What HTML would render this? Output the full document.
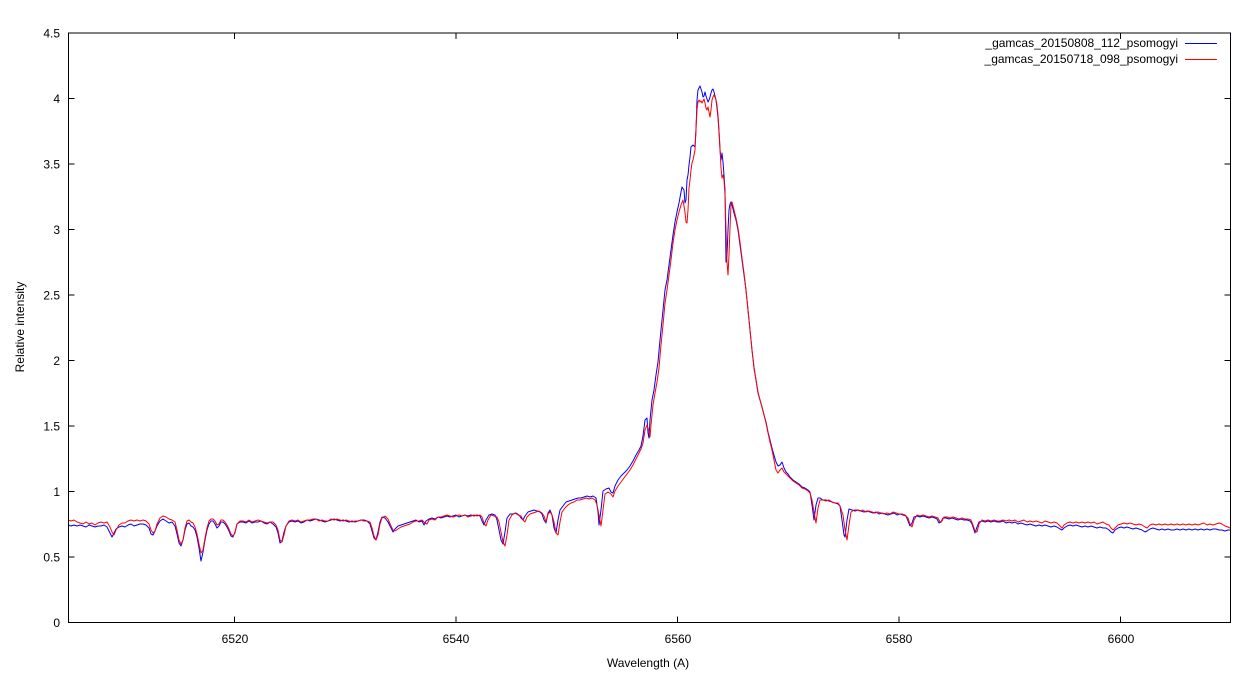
<!DOCTYPE html>
<html><head><meta charset="utf-8"><style>
html,body{margin:0;padding:0;background:#fff;}
svg{display:block;}
text{font-family:"Liberation Sans",sans-serif;font-size:12px;fill:#000;}
</style></head><body>
<svg width="1252" height="674" viewBox="0 0 1252 674" xmlns="http://www.w3.org/2000/svg">
<rect x="0" y="0" width="1252" height="674" fill="#fff"/>
<g stroke="#000" stroke-width="1" fill="none" shape-rendering="crispEdges">
<path d="M68.5,622.5H74.5M68.5,557H74.5M68.5,491.5H74.5M68.5,426H74.5M68.5,360.5H74.5M68.5,295H74.5M68.5,229.5H74.5M68.5,164H74.5M68.5,98.5H74.5M68.5,33H74.5"/>
<path d="M1230.5,557H1224.5M1230.5,491.5H1224.5M1230.5,426H1224.5M1230.5,360.5H1224.5M1230.5,295H1224.5M1230.5,229.5H1224.5M1230.5,164H1224.5M1230.5,98.5H1224.5"/>
<path d="M234.5,622.5V616.5M456,622.5V616.5M677.5,622.5V616.5M899,622.5V616.5M1120.5,622.5V616.5"/>
<path d="M234.5,33V39M456,33V39M677.5,33V39M899,33V39M1120.5,33V39"/>
</g>
<g text-anchor="end">
<text x="60" y="627">0</text>
<text x="60" y="561.5">0.5</text>
<text x="60" y="496">1</text>
<text x="60" y="430.5">1.5</text>
<text x="60" y="365">2</text>
<text x="60" y="299.5">2.5</text>
<text x="60" y="234">3</text>
<text x="60" y="168.5">3.5</text>
<text x="60" y="103">4</text>
<text x="60" y="37.5">4.5</text>
</g>
<g text-anchor="middle">
<text x="235" y="643">6520</text>
<text x="456" y="643">6540</text>
<text x="678" y="643">6560</text>
<text x="899" y="643">6580</text>
<text x="1121" y="643">6600</text>
<text x="648" y="667">Wavelength (A)</text>
<text transform="translate(24,327) rotate(-90)">Relative intensity</text>
</g>
<g text-anchor="end">
<text x="1178" y="47">_gamcas_20150808_112_psomogyi</text>
<text x="1178" y="63">_gamcas_20150718_098_psomogyi</text>
</g>
<rect x="1185" y="43" width="32" height="1" fill="#0000ff"/>
<rect x="1185" y="59" width="32" height="1" fill="#ff0000"/>
<polyline fill="none" stroke="#0000ff" stroke-width="1" stroke-linejoin="round" points="68,525 71,526 74,525 77,526 80,525 83,526 86,527 89,525 92,526 95,527 98,526 101,526 104,525 107,527 110,533 112,537 114,533 116,529 119,527 122,526 125,527 128,525 131,524 134,526 137,525 140,524 143,524 146,525 149,528 151,534 153,535 155,531 157,526 160,521 163,519 166,521 169,523 172,522 175,526 177,534 179,543 181,546 183,540 185,530 187,524 189,523 191,526 193,527 195,530 197,537 199,548 201,561 203,552 205,540 207,530 209,524 211,521 213,521 215,524 217,528 219,526 221,522 223,522 225,524 227,527 229,531 231,536 233,537 235,532 237,524 240,522 243,522 246,523 249,521 252,523 255,522 258,522 261,521 264,523 267,524 270,522 273,524 276,527 278,533 280,543 282,541 284,532 286,526 289,522 292,521 295,522 298,521 301,523 304,522 307,520 310,521 313,520 316,519 319,520 322,521 325,522 328,521 331,520 334,519 337,520 340,521 343,520 346,521 349,522 352,521 355,522 358,521 361,520 364,520 367,521 370,524 372,531 374,538 376,540 378,532 380,522 382,517 385,518 388,522 391,528 393,532 395,529 398,526 401,525 404,524 407,523 410,522 413,521 416,520 419,522 422,521 424,525 426,521 429,519 432,518 435,519 438,517 441,518 444,517 447,516 450,517 453,516 456,515 459,517 462,516 465,515 468,516 471,515 474,516 477,515 480,516 482,521 484,525 486,520 489,515 492,514 495,515 497,520 499,530 501,540 503,544 505,532 507,518 510,514 513,514 516,513 519,515 521,518 523,520 525,516 528,512 531,511 534,510 537,511 540,512 542,514 544,520 546,523 548,513 550,510 552,515 554,528 556,533 558,520 560,510 563,506 566,502 569,501 572,500 575,499 578,498 581,498 584,497 587,496 590,497 593,496 596,498 598,512 599,525 601,510 603,491 606,489 609,488 611,492 613,493 615,486 618,480 621,476 624,473 627,470 630,466 633,461 636,455 639,450 641,446 643,436 645,420 647,418 648,433 649,438 650,420 652,400 654,390 656,375 658,362 660,340 662,320 664,300 665,290 667,280 669,265 671,250 673,235 675,222 677,212 679,203 681,192 682,187 684,190 685,203 686,200 687,180 688,175 689,165 690,157 691,147 693,145 695,147 696,130 697,100 698,90 699,88 700,86 701,89 702,92 703,97 704,96 705,92 706,96 708,102 709,100 710,97 711,93 712,90 713,89 714,92 715,96 716,100 717,108 718,118 719,132 720,150 721,160 722,153 723,162 724,175 725,190 726,262 727,255 728,230 729,210 730,204 731,202 732,205 734,213 736,220 738,230 740,245 742,260 744,275 746,290 748,310 750,330 752,350 754,368 756,380 758,393 760,400 762,407 764,415 766,422 768,432 770,440 772,448 774,455 776,462 778,466 780,465 782,462 784,468 786,472 788,474 790,477 793,480 796,482 799,484 802,487 805,488 808,490 810,492 812,505 814,520 816,505 818,498 820,498 823,500 826,500 829,501 832,502 835,503 838,504 840,506 842,520 844,535 845,537 847,520 849,509 852,510 855,511 858,510 861,511 864,512 867,511 870,512 873,513 876,512 879,514 882,513 885,514 888,515 891,514 894,513 897,515 900,514 903,515 906,516 908,521 910,526 912,523 914,517 917,516 920,517 923,516 926,517 929,518 932,517 935,518 937,519 939,523 941,522 943,518 946,518 949,519 952,518 955,519 958,520 961,519 964,520 967,520 970,521 972,524 974,530 975,533 977,527 979,522 982,521 985,522 988,521 991,522 994,521 997,522 1000,522 1003,521 1006,523 1009,522 1012,523 1015,522 1018,524 1021,523 1024,524 1027,525 1030,524 1033,525 1036,526 1039,525 1042,526 1045,525 1048,526 1051,527 1054,526 1057,527 1060,529 1062,530 1064,528 1067,526 1070,525 1073,526 1076,525 1079,526 1082,527 1085,526 1088,527 1091,526 1094,527 1097,528 1100,527 1103,528 1106,528 1109,530 1111,532 1113,533 1115,530 1118,528 1121,527 1124,528 1127,527 1130,528 1133,529 1136,528 1139,529 1142,530 1145,532 1147,531 1150,529 1153,528 1156,529 1159,530 1162,529 1165,530 1168,529 1171,530 1174,530 1177,529 1180,530 1183,529 1186,530 1189,529 1192,530 1195,529 1198,530 1201,529 1204,530 1207,529 1210,530 1213,529 1216,529 1219,530 1222,530 1225,531 1228,530 1230,530"/>
<polyline fill="none" stroke="#ff0000" stroke-width="1" stroke-linejoin="round" points="68,520 71,521 74,520 77,522 80,523 83,524 86,522 89,524 92,523 95,525 98,523 101,522 104,523 107,522 110,527 112,532 114,535 116,530 119,525 122,523 125,523 128,521 131,520 134,521 137,520 140,521 143,520 146,521 149,524 151,530 153,533 155,531 157,524 160,518 163,516 166,517 169,519 172,520 175,522 177,530 179,540 181,544 183,540 185,528 187,521 189,520 191,522 193,523 195,527 197,534 199,544 201,553 203,550 205,538 207,528 209,521 211,519 213,519 215,521 217,525 219,524 221,520 223,520 225,522 227,525 229,529 231,534 233,536 235,533 237,524 240,521 243,521 246,522 249,520 252,522 255,521 258,520 261,521 264,522 267,523 270,522 273,522 276,525 278,530 280,540 282,542 284,535 286,526 289,521 292,520 295,521 298,520 301,522 304,521 307,520 310,520 313,519 316,519 319,521 322,520 325,521 328,521 331,519 334,520 337,519 340,520 343,521 346,520 349,521 352,522 355,521 358,521 361,520 364,521 367,521 370,522 372,528 374,536 376,540 378,535 380,524 382,518 385,516 388,519 391,526 393,530 395,531 398,529 401,527 404,526 407,525 410,524 413,522 416,521 419,521 422,520 425,523 427,524 429,520 432,519 435,520 438,517 441,517 444,516 447,515 450,516 453,517 456,516 459,515 462,516 465,515 468,517 471,516 474,515 477,516 480,515 482,517 484,523 486,526 488,520 491,515 494,516 497,517 499,522 501,532 503,542 505,546 507,535 509,520 512,515 515,513 518,515 521,516 523,520 525,522 527,517 530,514 533,513 536,512 539,511 542,513 544,516 546,522 548,514 550,512 552,515 554,522 556,533 558,535 560,522 562,512 565,508 568,505 571,503 574,502 577,500 580,500 583,499 586,498 589,499 592,498 595,500 597,505 599,515 601,526 603,510 605,494 608,492 611,494 613,497 615,491 618,486 621,482 624,478 627,474 630,470 633,465 636,459 639,453 641,449 643,443 645,430 647,425 649,431 650,437 651,425 653,405 655,393 657,382 659,368 661,345 663,325 665,303 667,290 669,275 671,260 673,243 675,230 677,220 679,212 681,205 683,200 685,212 686,222 687,223 688,210 689,188 690,180 691,170 692,163 693,160 694,155 695,150 696,128 697,110 698,102 699,100 700,102 701,101 702,103 703,101 704,99 705,103 706,108 707,110 708,107 709,112 710,117 711,110 712,100 713,97 714,95 715,97 716,100 717,105 718,115 719,130 720,148 721,168 722,178 723,175 724,180 725,195 726,230 727,262 728,275 729,255 730,228 731,205 732,202 734,210 736,218 738,228 740,242 742,258 744,273 746,290 748,310 750,330 752,350 754,367 756,380 758,392 760,400 762,407 764,415 766,423 768,433 770,442 772,450 774,460 776,470 778,473 780,470 782,468 784,472 786,474 788,476 790,478 793,481 796,483 799,485 802,488 805,489 808,491 810,493 812,500 814,512 816,523 818,508 820,500 823,500 826,501 829,500 832,502 835,503 838,503 840,506 843,515 845,530 847,540 849,525 851,512 854,510 857,510 860,511 863,510 866,512 869,511 872,512 875,513 878,512 881,513 884,514 887,513 890,514 893,512 896,513 899,514 902,514 905,515 908,518 910,524 912,527 914,520 917,515 920,516 923,515 926,516 929,517 932,516 935,517 938,518 940,522 942,521 944,517 947,517 950,518 953,517 956,518 959,519 962,518 965,519 968,519 971,520 973,525 975,531 977,532 979,524 982,520 985,521 988,520 991,521 994,520 997,521 1000,521 1003,520 1006,521 1009,520 1012,521 1015,520 1018,522 1021,521 1024,520 1027,522 1030,521 1033,522 1036,521 1039,522 1042,523 1045,521 1048,522 1051,523 1054,522 1057,523 1060,526 1062,528 1064,525 1067,523 1070,522 1073,523 1076,522 1079,523 1082,522 1085,523 1088,522 1091,523 1094,522 1097,524 1100,523 1103,522 1106,524 1109,525 1111,528 1113,530 1115,528 1118,525 1121,524 1124,523 1127,524 1130,523 1133,524 1136,525 1139,524 1142,525 1145,527 1147,528 1150,525 1153,524 1156,525 1159,524 1162,525 1165,524 1168,525 1171,524 1174,525 1177,524 1180,525 1183,524 1186,525 1189,524 1192,525 1195,524 1198,525 1201,524 1204,523 1207,525 1210,524 1213,525 1216,524 1219,523 1222,524 1225,526 1228,527 1230,528"/>
<rect x="68.5" y="33" width="1162" height="589.5" fill="none" stroke="#000" stroke-width="1" shape-rendering="crispEdges"/>
</svg>
</body></html>
